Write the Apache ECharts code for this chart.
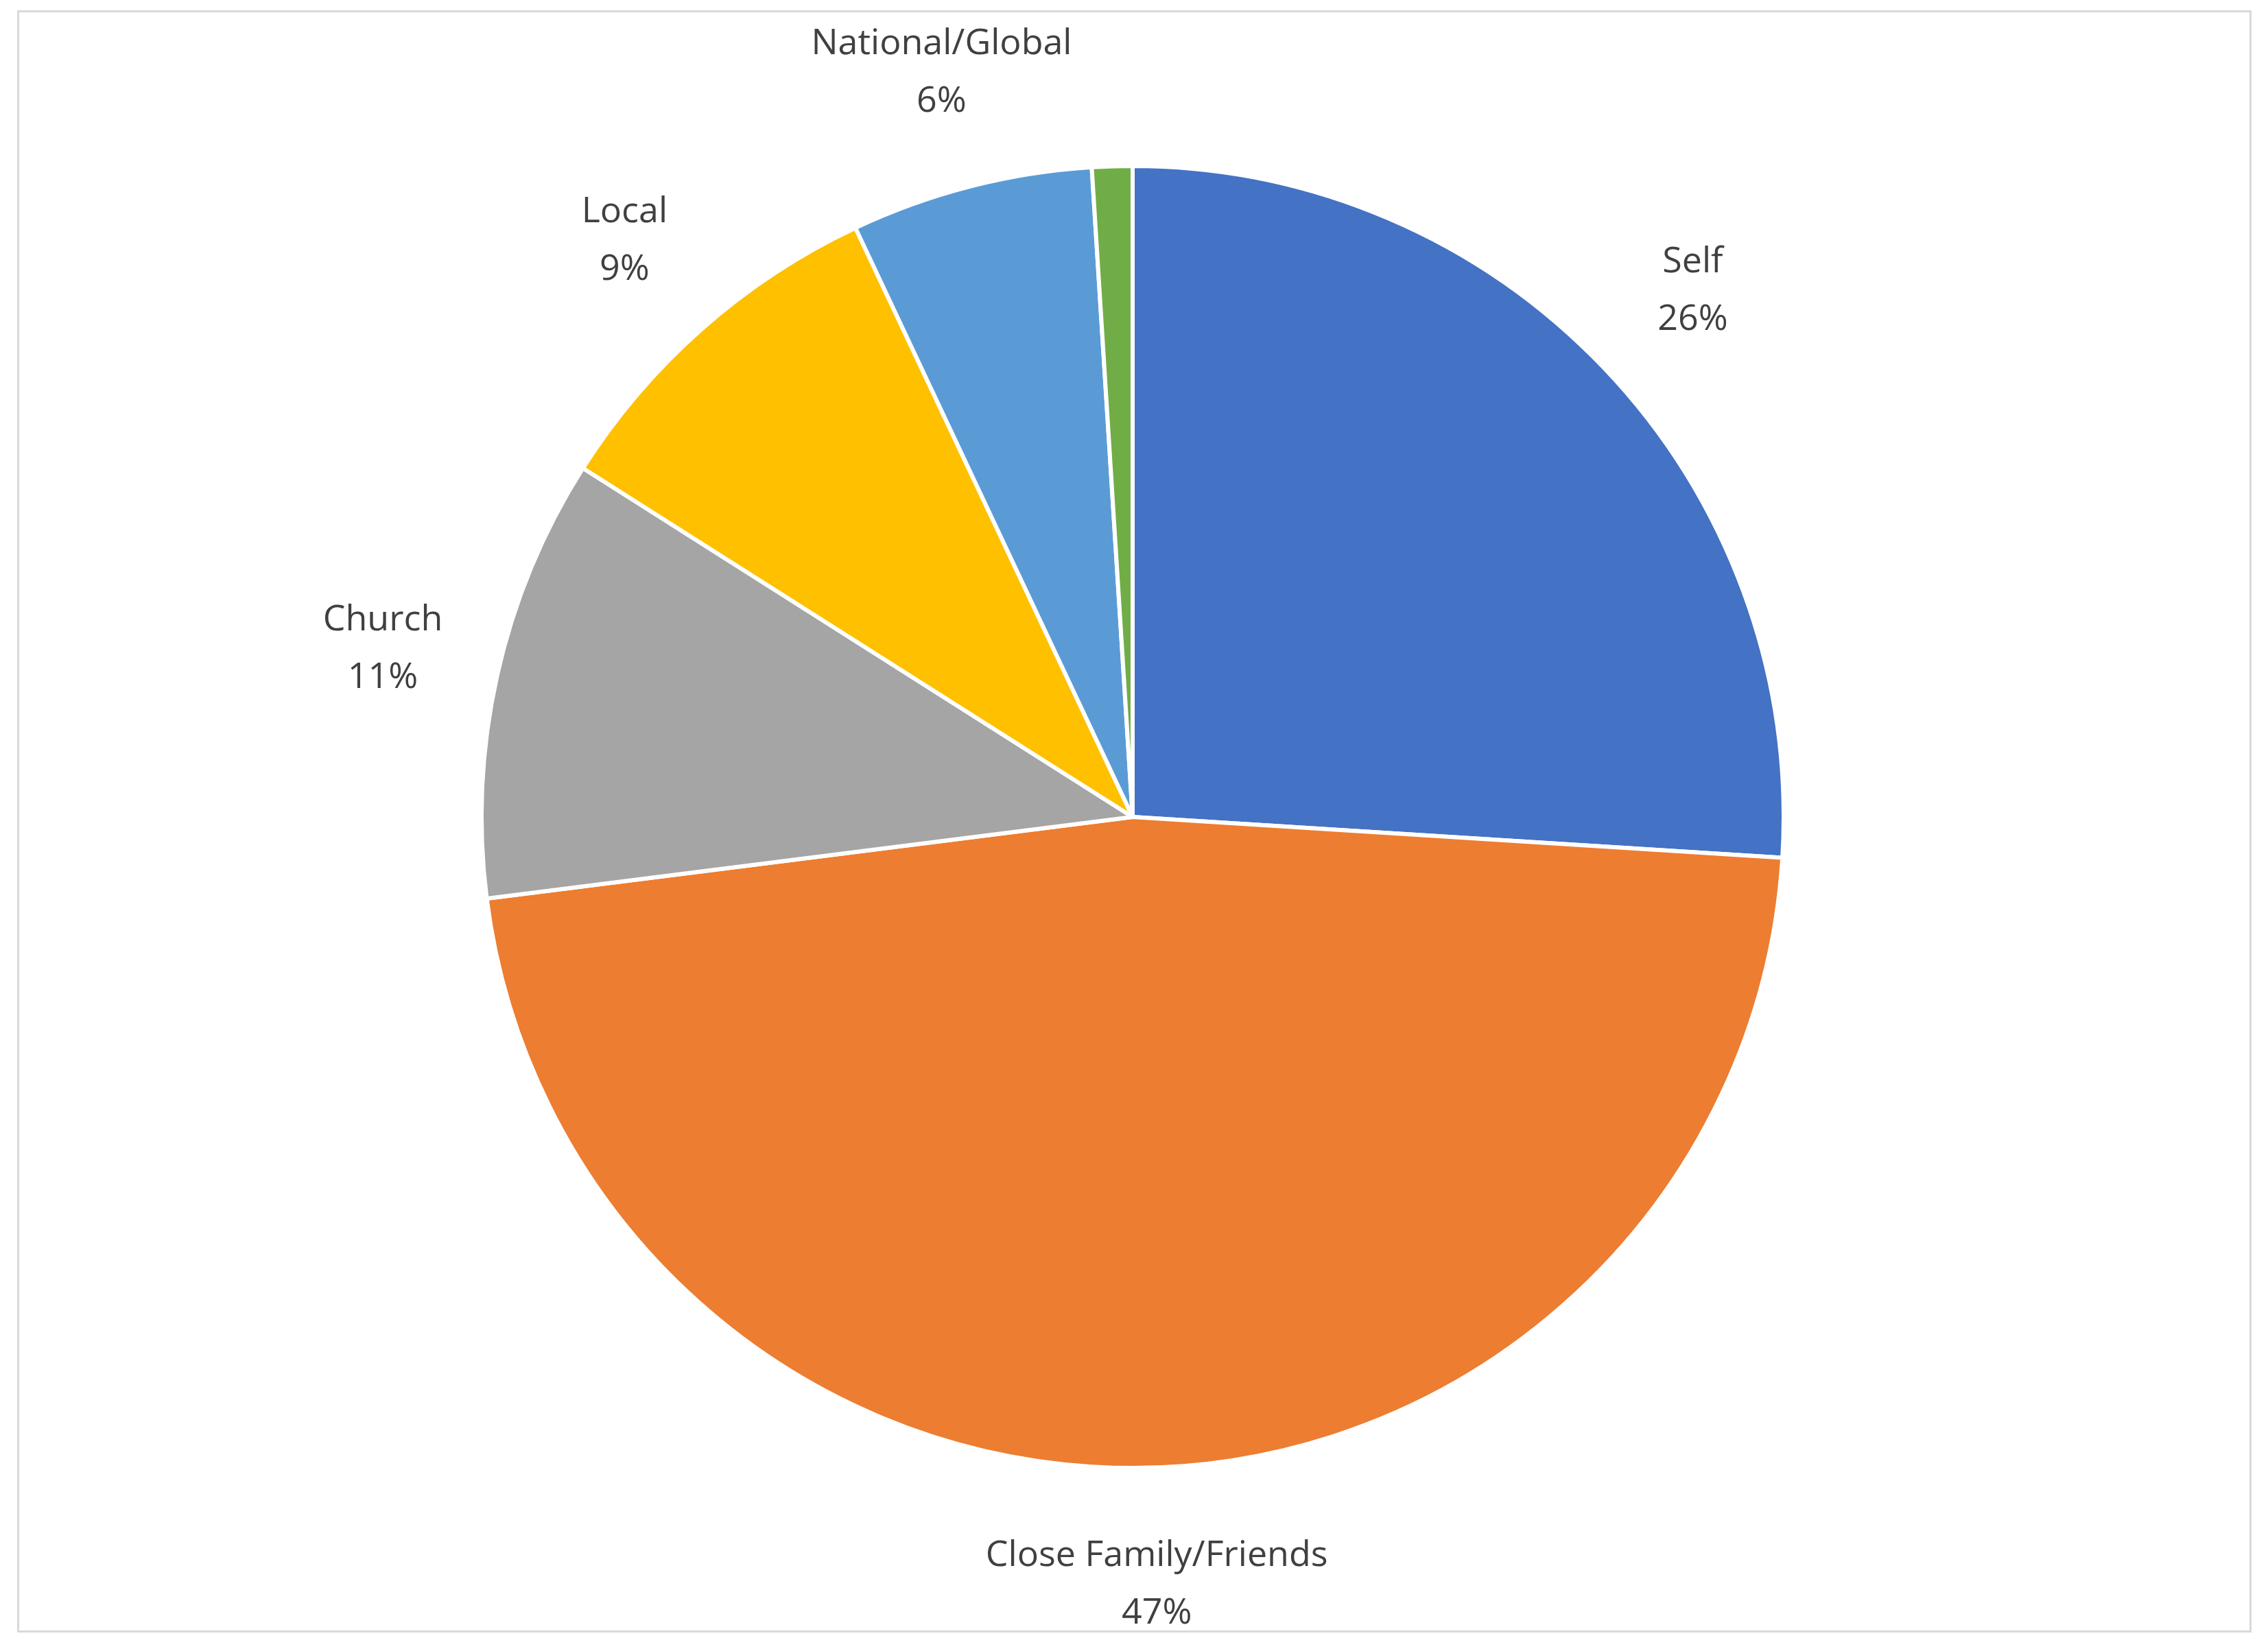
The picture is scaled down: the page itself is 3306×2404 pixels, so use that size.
<!DOCTYPE html>
<html><head><meta charset="utf-8">
<script src="https://cdn.jsdelivr.net/npm/echarts@6/dist/echarts.min.js"></script>
<style>html,body{margin:0;padding:0;background:#fff}#c{width:3306px;height:2404px}
#f{position:absolute;left:25px;top:15px;width:3251px;height:2359px;border:3px solid #d9d9d9;pointer-events:none}</style>
</head><body><div id="c"></div><div id="f"></div>
<script>
const categories = ['Self','Close Family/Friends','Church','Local','National/Global','Uncertain'];
const values = [26,47,11,9,6,1];
const colors = ['#4472C4','#ED7D31','#A5A5A5','#FFC000','#5B9BD5','#70AD47'];
const data = categories.map((n,i)=>({name:n,value:values[i],itemStyle:{color:colors[i]}}));
const labelData = categories.map((n,i)=>({name:n,value:values[i]}));
const chart = echarts.init(document.getElementById('c'));
chart.setOption({
  animation:false,
  series:[
    {type:'pie',center:[1651,1191],radius:[0,949],startAngle:90,clockwise:true,
     data:data,label:{show:false},labelLine:{show:false},
     itemStyle:{borderColor:'#fff',borderWidth:6}},
    {type:'pie',center:[1651,1191],radius:[1000,1234],startAngle:90,clockwise:true,silent:true,
     data:labelData,itemStyle:{color:'transparent'},labelLine:{show:false},
     label:{show:true,position:'inside',formatter:p=>p.name+'\n'+p.value+'%',
       fontFamily:'Open Sans',fontSize:52,lineHeight:84,color:'#404040'}}
  ]
});
</script></body></html>
